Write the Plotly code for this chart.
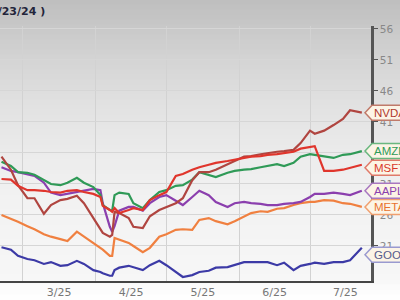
import numpy as np
import plotly.graph_objects as go

dates = ["2025-02-20", "2025-02-24", "2025-02-27", "2025-03-03", "2025-03-06", "2025-03-10",
         "2025-03-13", "2025-03-17", "2025-03-20", "2025-03-24", "2025-03-27", "2025-03-31",
         "2025-04-03", "2025-04-04", "2025-04-07", "2025-04-08", "2025-04-09", "2025-04-11",
         "2025-04-15", "2025-04-17", "2025-04-21", "2025-04-24", "2025-04-28", "2025-05-01",
         "2025-05-05", "2025-05-08", "2025-05-12", "2025-05-15", "2025-05-19", "2025-05-22",
         "2025-05-27", "2025-05-30", "2025-06-03", "2025-06-06", "2025-06-10", "2025-06-13",
         "2025-06-17", "2025-06-20", "2025-06-24", "2025-06-27", "2025-07-01", "2025-07-03",
         "2025-07-07", "2025-07-11", "2025-07-15", "2025-07-18", "2025-07-23"]

nvda = [35.4, 33.3, 30.8, 28.7, 28.7, 26.2, 27.6, 28.4, 28.6, 29.1, 27.9, 25.5, 23.9, 23.1, 22.5, 22.8,
        26.5, 26.3, 25.5, 24.1, 23.9, 25.8, 26.8, 27.3, 27.9, 28.7, 31.6, 32.9, 32.9, 33.3, 34.1, 34.7,
        35.4, 35.5, 35.8, 36.0, 36.2, 36.3, 36.5, 37.6, 39.6, 39.1, 39.6, 40.5, 41.5, 42.9, 42.5]
amzn = [34.6, 33.9, 32.9, 32.8, 32.5, 31.7, 31.0, 30.8, 31.2, 32.0, 31.2, 30.5, 29.2, 27.6, 26.8, 26.7,
        29.2, 29.6, 29.4, 27.9, 27.1, 28.4, 29.7, 30.0, 30.7, 30.8, 31.7, 32.9, 32.5, 32.1, 32.8, 33.1,
        33.3, 33.4, 33.7, 33.9, 34.2, 33.9, 34.4, 35.4, 35.8, 35.7, 35.4, 35.2, 35.7, 35.8, 36.3]
msft = [31.8, 31.7, 30.7, 30.0, 30.0, 29.9, 29.7, 29.6, 29.9, 30.0, 29.7, 29.4, 28.9, 27.5, 26.8, 26.5,
        27.1, 26.3, 26.8, 27.1, 26.8, 28.4, 29.2, 29.7, 32.3, 32.6, 33.3, 33.7, 34.1, 34.4, 34.7, 34.9,
        35.2, 35.4, 35.5, 35.7, 35.8, 36.0, 36.2, 36.7, 37.0, 37.1, 33.1, 33.1, 33.3, 33.6, 34.1]
aapl = [33.7, 33.1, 32.9, 32.6, 32.3, 31.2, 29.6, 29.2, 29.4, 29.7, 29.9, 30.2, 30.0, 27.9, 24.1, 23.3,
        24.2, 26.7, 27.3, 27.3, 26.7, 27.9, 28.9, 29.2, 28.3, 27.6, 28.9, 29.9, 29.2, 28.1, 27.3, 27.9,
        28.1, 27.9, 27.8, 27.6, 27.6, 27.8, 27.9, 28.1, 28.9, 29.4, 29.4, 29.6, 29.4, 29.2, 29.9]
meta = [26.0, 25.4, 24.9, 24.2, 23.7, 22.9, 22.5, 22.1, 21.8, 23.3, 22.5, 21.5, 20.7, 20.4, 19.4, 19.4,
        22.3, 22.0, 21.5, 21.0, 20.0, 20.7, 22.5, 22.9, 23.6, 23.7, 23.6, 25.2, 25.5, 25.0, 24.5, 25.0,
        25.8, 26.3, 26.6, 26.5, 27.0, 27.1, 27.6, 27.9, 28.1, 28.1, 28.4, 28.3, 27.9, 27.8, 27.3]
goog = [20.8, 20.4, 19.4, 18.9, 18.7, 18.1, 18.4, 17.8, 17.9, 18.6, 18.1, 17.1, 16.8, 16.6, 16.2, 16.2,
        17.1, 17.5, 17.8, 17.6, 17.1, 17.9, 18.6, 17.9, 16.8, 16.0, 16.3, 16.8, 17.0, 17.5, 17.6, 17.9,
        18.4, 18.4, 18.4, 18.4, 17.9, 18.3, 17.1, 17.8, 18.1, 18.3, 18.1, 18.4, 18.4, 18.7, 20.7]

tickers = ["GOOG", "META", "AAPL", "AMZN", "NVDA", "MSFT"]
series = {"NVDA": nvda, "AMZN": amzn, "MSFT": msft, "AAPL": aapl, "META": meta, "GOOG": goog}
y_ticks = [21, 26, 31, 36, 41, 46, 51, 56]
title_text = "(7/23/24 )"

# styles
line_colors = {"NVDA": "#b04540", "AMZN": "#2f9a57", "MSFT": "#e0352c",
               "AAPL": "#8b3fae", "META": "#f08040", "GOOG": "#3c3aa6"}
text_colors = {"NVDA": "#b0392e", "AMZN": "#2f9a57", "MSFT": "#d8392c",
               "AAPL": "#8b3fae", "META": "#e8722e", "GOOG": "#555b8c"}
border_colors = {"NVDA": "#c07a6a", "AMZN": "#6ab77f", "MSFT": "#e07a6a",
                 "AAPL": "#a878c0", "META": "#f0a070", "GOOG": "#9a9ad0"}
label_offset_px = {"GOOG": 7, "MSFT": 3}

W, H = 400, 300
ml, mr, mt, mb = 0, 29, 26, 19
plot_w = W - ml - mr
plot_h = H - mt - mb
y_range = [15.35, 56.48]
px_per_unit = plot_h / (y_range[1] - y_range[0])

fig = go.Figure()
for t in tickers:
    fig.add_trace(go.Scatter(x=dates, y=series[t], mode="lines", name=t,
                             line=dict(color=line_colors[t], width=2.2), showlegend=False,
                             hoverinfo="skip"))

shapes = []
def py_to_paper(py):
    return (H - mb - py) / plot_h

band_edges = np.arange(0, H + 1, 5)
gp = [0, 30, 60, 100, 150, 200, 281, 290, 300]
gv = [190, 201, 212, 224, 235, 242, 247, 252, 254]
for a, b in zip(band_edges[:-1], band_edges[1:]):
    c = int(round(np.interp((a + b) / 2, gp, gv)))
    shapes.append(dict(type="rect", xref="paper", yref="paper",
                       x0=-0.02, x1=1.12, y0=py_to_paper(b) - 0.002, y1=py_to_paper(a) + 0.002,
                       fillcolor=f"rgb({c},{c},{c})", line=dict(width=0), layer="below"))

annotations = []
half_h = 7.5 / px_per_unit
x_tip = 365 / plot_w
x_body = 372 / plot_w
x_end = 420 / plot_w
for t in tickers:
    v = series[t][-1] - label_offset_px.get(t, 0) / px_per_unit
    path = (f"M {x_tip},{v} L {x_body},{v + half_h} L {x_end},{v + half_h} "
            f"L {x_end},{v - half_h} L {x_body},{v - half_h} Z")
    shapes.append(dict(type="path", xref="paper", yref="y", path=path,
                       fillcolor="#fcf4e6", line=dict(color=border_colors[t], width=1.5),
                       layer="above"))
    annotations.append(dict(xref="paper", yref="y", x=371.5 / plot_w, y=v, text=t,
                            xanchor="left", yanchor="middle", showarrow=False,
                            font=dict(family="Liberation Sans", size=11.5, color=text_colors[t])))

annotations.append(dict(xref="paper", yref="paper", x=47 / plot_w, y=py_to_paper(11.5),
                        text="<b>" + title_text + "</b>", xanchor="right", yanchor="middle",
                        showarrow=False,
                        font=dict(family="DejaVu Sans", size=11, color="#22243a")))

fig.update_layout(
    width=W, height=H,
    margin=dict(l=ml, r=mr, t=mt, b=mb),
    paper_bgcolor="white", plot_bgcolor="rgba(0,0,0,0)",
    shapes=shapes, annotations=annotations,
    xaxis=dict(type="date", range=["2025-02-19 08:40", "2025-07-26 21:30"],
               dtick="M1", tick0="2025-01-01", tickformat="%-m/%y", ticklabelmode="period",
               showgrid=True, gridcolor="#d2d2d2", gridwidth=1,
               showline=True, linecolor="#444", linewidth=2, ticks="",
               tickfont=dict(family="DejaVu Sans", size=11, color="#777"), zeroline=False),
    yaxis=dict(side="right", range=y_range, tickvals=y_ticks,
               showgrid=True, gridcolor="#d6d6d6", gridwidth=1,
               showline=True, linecolor="#555", linewidth=2.5,
               ticks="outside", ticklen=4, tickcolor="#555", tickwidth=1,
               tickfont=dict(family="DejaVu Sans", size=10.5, color="#888"), zeroline=False),
)

fig.write_html("out.html")
